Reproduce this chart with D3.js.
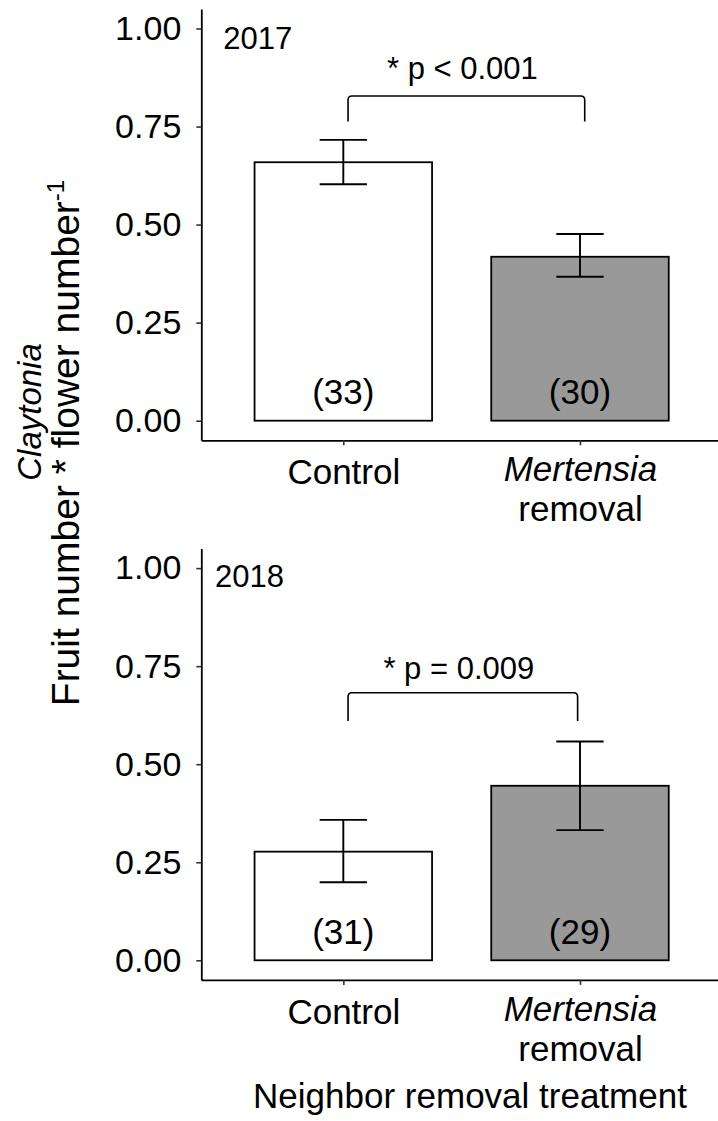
<!DOCTYPE html>
<html>
<head>
<meta charset="utf-8">
<script src="https://cdn.jsdelivr.net/npm/d3@7/dist/d3.min.js"></script>
<style>
  html, body { margin: 0; padding: 0; background: #ffffff; }
  svg { display: block; font-family: "Liberation Sans", Arial, Helvetica, sans-serif; }
</style>
</head>
<body>
<svg id="chart" width="718" height="1121"></svg>
<script>
// Claytonia fruit set (fruit number per flower number) by neighbor removal treatment
const treatments = ["Control", "Mertensia removal"];
const years = ["2017", "2018"];
const means2017 = [0.659, 0.418];
const lower2017 = [0.603, 0.367];
const upper2017 = [0.716, 0.476];
const means2018 = [0.277, 0.445];
const lower2018 = [0.199, 0.332];
const upper2018 = [0.358, 0.558];
const sampleSizes2017 = [33, 30];
const sampleSizes2018 = [31, 29];
const pLabels = ["* p < 0.001", "* p = 0.009"];
const bracketTops = [0.828, 0.682];
const bracketTips = [0.763, 0.610];
const bracketEnds2017 = [1.02, 2.02];
const bracketEnds2018 = [1.02, 1.99];
const yTicks = [0, 0.25, 0.5, 0.75, 1];
const barFills = ["#ffffff", "#999999"];

const panels = [
  { year: years[0], means: means2017, lower: lower2017, upper: upper2017, n: sampleSizes2017,
    p: pLabels[0], bTop: bracketTops[0], bTip: bracketTips[0], bEnds: bracketEnds2017,
    offset: 0, yearPos: [0.493, 0.947], pY: 0.871 },
  { year: years[1], means: means2018, lower: lower2018, upper: upper2018, n: sampleSizes2018,
    p: pLabels[1], bTop: bracketTops[1], bTip: bracketTips[1], bEnds: bracketEnds2018,
    offset: 539.6, yearPos: [0.458, 0.953], pY: 0.717 }
];

const svg = d3.select("#chart");
const left = 201.3, right = 722;
const FONT = 35;

// discrete x positions (1, 2) with ggplot-style 0.6 expansion
const x = d3.scalePoint().domain(treatments).range([left, right]).padding(0.6);
const step = x.step();
const xNum = d3.scaleLinear().domain([0.4, 2.6]).range([left, right]);
const y = d3.scaleLinear().domain([-0.05, 1.05]).range([440.3, 8.9]);

panels.forEach(pn => {
  const g = svg.append("g").attr("transform", `translate(0,${pn.offset})`);

  // bars
  g.selectAll("rect.bar").data(treatments).join("rect")
    .attr("class", "bar")
    .attr("x", d => x(d) - 0.375 * step)
    .attr("width", 0.75 * step)
    .attr("y", (d, i) => y(pn.means[i]))
    .attr("height", (d, i) => y(0) - y(pn.means[i]))
    .attr("fill", (d, i) => barFills[i])
    .attr("stroke", "#000")
    .attr("stroke-width", 1.8);

  // error bars
  const eb = g.selectAll("g.err").data(treatments).join("g").attr("class", "err")
    .attr("stroke", "#000").attr("stroke-width", 1.9);
  eb.append("line")
    .attr("x1", d => x(d)).attr("x2", d => x(d))
    .attr("y1", (d, i) => y(pn.lower[i])).attr("y2", (d, i) => y(pn.upper[i]));
  eb.append("line")
    .attr("x1", d => x(d) - 0.1 * step).attr("x2", d => x(d) + 0.1 * step)
    .attr("y1", (d, i) => y(pn.upper[i])).attr("y2", (d, i) => y(pn.upper[i]));
  eb.append("line")
    .attr("x1", d => x(d) - 0.1 * step).attr("x2", d => x(d) + 0.1 * step)
    .attr("y1", (d, i) => y(pn.lower[i])).attr("y2", (d, i) => y(pn.lower[i]));

  // sample sizes inside bars
  g.selectAll("text.n").data(treatments).join("text")
    .attr("class", "n")
    .attr("x", d => x(d))
    .attr("y", y(0) - 16.7)
    .attr("text-anchor", "middle")
    .attr("font-size", FONT)
    .text((d, i) => `(${pn.n[i]})`);

  // significance bracket
  const bx0 = xNum(pn.bEnds[0]), bx1 = xNum(pn.bEnds[1]);
  const yt = y(pn.bTop), yb = y(pn.bTip), r = 4;
  g.append("path")
    .attr("d", `M${bx0},${yb} L${bx0},${yt + r} Q${bx0},${yt} ${bx0 + r},${yt} L${bx1 - r},${yt} Q${bx1},${yt} ${bx1},${yt + r} L${bx1},${yb}`)
    .attr("fill", "none").attr("stroke", "#000").attr("stroke-width", 1.6);
  g.append("text")
    .attr("x", (bx0 + bx1) / 2 - 4)
    .attr("y", y(pn.pY))
    .attr("text-anchor", "middle")
    .attr("font-size", 31)
    .text(pn.p);

  // year label
  g.append("text")
    .attr("x", xNum(pn.yearPos[0]))
    .attr("y", y(pn.yearPos[1]))
    .attr("font-size", 31)
    .text(pn.year);

  // y axis
  const ya = g.append("g").attr("transform", `translate(${left},0)`)
    .call(d3.axisLeft(y).tickValues(yTicks).tickFormat(d3.format(".2f"))
      .tickSize(5).tickSizeOuter(0).tickPadding(15));
  ya.select(".domain").attr("stroke-width", 1.8);
  ya.selectAll(".tick line").attr("stroke", "#333").attr("stroke-width", 1.6);
  ya.selectAll(".tick text").attr("font-size", 34).attr("fill", "#000")
    .attr("font-family", null);

  // x axis
  const xa = g.append("g").attr("transform", `translate(0,${y(-0.05)})`)
    .call(d3.axisBottom(x).tickSize(5).tickSizeOuter(0).tickFormat(""));
  xa.select(".domain").attr("stroke-width", 1.8);
  xa.selectAll(".tick line").attr("stroke", "#333").attr("stroke-width", 1.6);
  xa.selectAll(".tick text").remove();
  xa.selectAll(".tick").each(function (d) {
    const t = d3.select(this).append("text")
      .attr("text-anchor", "middle").attr("font-size", FONT).attr("fill", "#000");
    if (d === "Control") {
      t.attr("y", 44).text("Control");
    } else {
      t.append("tspan").attr("x", 0).attr("y", 41).attr("font-style", "italic").text("Mertensia");
      t.append("tspan").attr("x", 0).attr("y", 81).text("removal");
    }
  });
});

// y-axis title (two lines, rotated)
const yt = svg.append("g").attr("transform", "rotate(-90)");
yt.append("text").attr("x", -412).attr("y", 41).attr("text-anchor", "middle")
  .attr("font-size", 33).attr("font-style", "italic").text("Claytonia");
const l2 = yt.append("text").attr("x", -443).attr("y", 79).attr("text-anchor", "middle")
  .attr("font-size", 39);
l2.append("tspan").text("Fruit number * flower number");
l2.append("tspan").attr("font-size", 24).attr("dy", -15).text("-1");

// x-axis title
svg.append("text").attr("x", 470).attr("y", 1108).attr("text-anchor", "middle")
  .attr("font-size", FONT).text("Neighbor removal treatment");
</script>
</body>
</html>
